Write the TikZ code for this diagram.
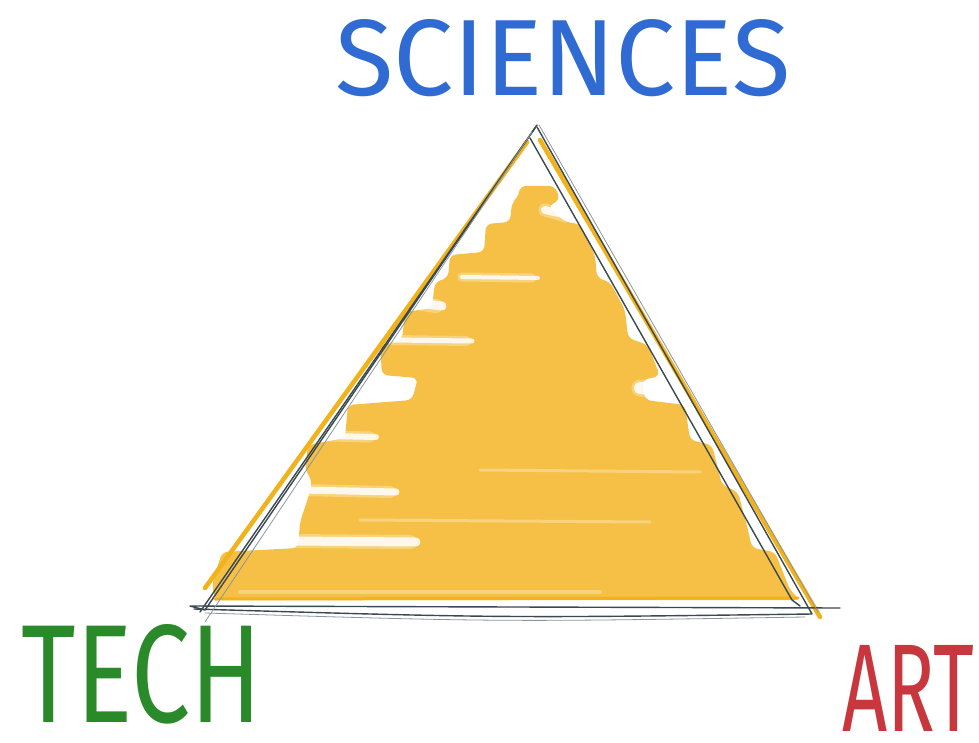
\documentclass[tikz,border=0pt]{standalone}
\usepackage{fontspec}
\setmainfont{Fira Sans}
\usepackage{graphicx}
\definecolor{skyblue}{HTML}{2F6BD3}
\definecolor{techgreen}{HTML}{2A8A2A}
\definecolor{artred}{HTML}{C8373D}
\definecolor{yel}{HTML}{F6C046}
\definecolor{yelline}{HTML}{F2B21C}
\definecolor{pencil}{HTML}{3A4950}
\definecolor{pencillight}{HTML}{8A969C}
\tikzset{
  gap/.style={white, line cap=round, opacity=0.85},
  softgap/.style={white, line cap=round, opacity=0.3},
  outline/.style={pencil, line width=1.4pt, line cap=round, line join=round},
  outlinelight/.style={pencillight, line width=0.8pt, line cap=round},
  yedge/.style={yelline, line width=4.5pt, line cap=round},
  label/.style={inner sep=0pt, outer sep=0pt}
}
\begin{document}
\begin{tikzpicture}[x=1pt,y=-1pt]
\useasboundingbox (0,0) rectangle (979,743);
\fill[white] (0,0) rectangle (979,743);
% corners
\coordinate (apex) at (537,125);
% yellow scribbled fill
\fill[yel, rounded corners=6pt] (520,186) -- (555,186) -- (560,200) -- (548,206) -- (565,222) -- (580,224)
  -- (595,255) -- (597,278) -- (610,282) -- (625,310) -- (628,338) -- (648,345) -- (660,376)
  -- (642,380) -- (645,400) -- (685,405) -- (690,440) -- (712,445) -- (722,485) -- (738,492)
  -- (748,530) -- (752,548) -- (775,552) -- (790,590) -- (800,600) -- (215,600) -- (212,585)
  -- (222,552) -- (298,548) -- (300,522) -- (310,492) -- (312,480) -- (305,470) -- (308,445)
  -- (345,438) -- (348,405) -- (412,400) -- (418,378) -- (382,375) -- (380,345) -- (402,340)
  -- (405,312) -- (432,308) -- (435,282) -- (448,278) -- (450,255) -- (484,252) -- (486,224)
  -- (510,222) -- (512,202) -- (518,198) -- cycle;
% white gaps in the scribble
\foreach \xa/\ya/\xb/\yb/\w in {462/277/532/278/4, 410/302/436/306/9, 392/340/466/341/5,
  545/210/566/216/8, 640/388/662/390/12, 300/490/390/492/7, 290/541/410/542/9, 330/436/370/437/6}
{
  \draw[softgap, line width=\w pt+5pt] (\xa,\ya) -- (\xb,\yb);
  \draw[gap, line width=\w pt] (\xa,\ya) -- (\xb+6,\yb);
}
\draw[softgap, line width=3pt] (480,470) -- (700,472);
\draw[softgap, line width=3pt] (360,520) -- (650,522);
\draw[softgap, line width=4pt] (240,592) -- (600,592);
% yellow edges
\draw[yedge] (527,142) -- (205,588);
\draw[yedge] (540,140) -- (820,617);
\draw[yelline, line width=3pt, line cap=round] (215,599) -- (798,598);
% pencil outlines
\draw[outline] (apex) -- (205,610) -- (190,606) -- (840,608);
\draw[outline] (535,128) -- (200,612);
\draw[outline] (194,609) .. controls (500,618) .. (812,614) -- (537,127);
\draw[outline] (530,138) -- (792,600) -- (800,606);
\draw[outlinelight] (539,125) -- (818,612);
\draw[outlinelight] (532,132) -- (205,622);
\draw[outlinelight] (205,613) .. controls (500,622) .. (805,617);
% labels
\node[label, skyblue] (sci) at (563,58) {\resizebox{455pt}{76pt}{SCIENCES}};
\node[label, techgreen] (tech) at (142,674) {\resizebox{240pt}{98pt}{TECH}};
\node[label, artred] (art) at (908,688) {\resizebox{132pt}{86pt}{ART}};
\end{tikzpicture}
\end{document}
